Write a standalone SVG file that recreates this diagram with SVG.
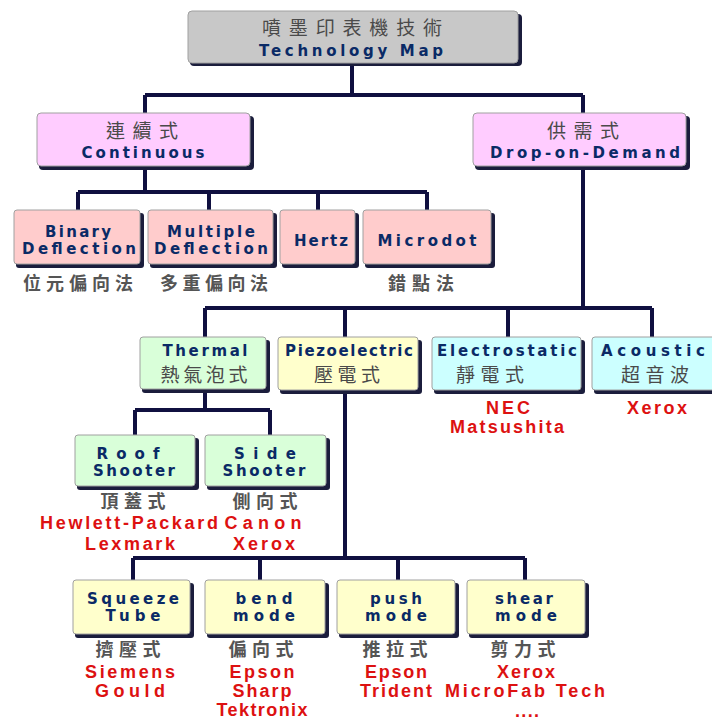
<svg xmlns="http://www.w3.org/2000/svg" width="712" height="720" viewBox="0 0 712 720">
<style>
.sh{fill:#1b1d3c}
.bx{stroke:#a0a0a0;stroke-width:1}
.en{font-family:"DejaVu Sans","Liberation Sans",sans-serif;font-weight:bold;font-size:15px;fill:#0a2a66;text-anchor:middle}
.zh{font-family:"Noto Sans CJK TC","Noto Sans CJK SC",sans-serif;font-size:19px;fill:#4a4a4a;text-anchor:middle}
.zs{font-family:"Noto Sans CJK TC","Noto Sans CJK SC",sans-serif;font-size:18px;font-weight:bold;fill:#555;text-anchor:middle}
.rd{font-family:"Liberation Sans",sans-serif;font-weight:bold;font-size:18px;fill:#dd1111;text-anchor:middle}
.cn{stroke:#101040;stroke-width:4;fill:none}
.g{fill:#c8c8c8}.p{fill:#ffccff}.s{fill:#ffcccc}.gr{fill:#d9ffd9}.y{fill:#ffffcc}.c{fill:#ccffff}
</style>
<rect width="712" height="720" fill="#ffffff"/>
<g id="connectors">
<path class="cn" d="M352 64V95M145 95H583M145 95V113M583 95V113"/>
<path class="cn" d="M145 167V192M78 192H427M78 192V210M209 192V210M318 192V210M427 192V210"/>
<path class="cn" d="M583 167V308M205 308H652M205 308V337M345 308V337M508 308V337M652 308V337"/>
<path class="cn" d="M205 390V410M135 410H270M135 410V435M270 410V435"/>
<path class="cn" d="M345 392V558M133 558H525M133 558V580M260 558V580M398 558V580M525 558V580"/>
</g>
<g id="title">
<rect class="sh" x="190" y="14" width="332" height="52" rx="4"/>
<rect class="bx g" x="188" y="11" width="330" height="52" rx="4"/>
<text class="zh" x="352" y="35" font-size="20" textLength="180">噴墨印表機技術</text>
<text class="en" x="351" y="56" font-size="16" textLength="184">Technology Map</text>
</g>
<g id="continuous">
<rect class="sh" x="39" y="116" width="215" height="54" rx="4"/>
<rect class="bx p" x="37" y="113" width="213" height="53" rx="4"/>
<text class="zh" x="142" y="138" font-size="20" textLength="72">連續式</text>
<text class="en" x="143" y="158" font-size="16" textLength="123">Continuous</text>
</g>
<g id="dod">
<rect class="sh" x="475" y="116" width="215" height="54" rx="4"/>
<rect class="bx p" x="473" y="113" width="213" height="53" rx="4"/>
<text class="zh" x="583" y="138" font-size="20" textLength="72">供需式</text>
<text class="en" x="585" y="158" font-size="16" textLength="190">Drop-on-Demand</text>
</g>
<g id="binary">
<rect class="sh" x="16" y="213" width="128" height="55" rx="3"/>
<rect class="bx s" x="14" y="210" width="126" height="54" rx="3"/>
<text class="en" x="78" y="237" textLength="66">Binary</text>
<text class="en" x="79" y="254" textLength="114">Deflection</text>
<text class="zs" x="78" y="290" textLength="110">位元偏向法</text>
</g>
<g id="multiple">
<rect class="sh" x="150" y="213" width="127" height="55" rx="3"/>
<rect class="bx s" x="148" y="210" width="125" height="54" rx="3"/>
<text class="en" x="211" y="237" textLength="88">Multiple</text>
<text class="en" x="211" y="254" textLength="114">Deflection</text>
<text class="zs" x="214" y="290" textLength="108">多重偏向法</text>
</g>
<g id="hertz">
<rect class="sh" x="282" y="213" width="77" height="55" rx="3"/>
<rect class="bx s" x="280" y="210" width="75" height="54" rx="3"/>
<text class="en" x="321" y="246" font-size="16" textLength="54">Hertz</text>
</g>
<g id="microdot">
<rect class="sh" x="365" y="213" width="130" height="55" rx="3"/>
<rect class="bx s" x="363" y="210" width="128" height="54" rx="3"/>
<text class="en" x="427" y="246" font-size="16" textLength="99">Microdot</text>
<text class="zs" x="421" y="290" textLength="66">錯點法</text>
</g>
<g id="thermal">
<rect class="sh" x="142" y="340" width="128" height="53" rx="3"/>
<rect class="bx gr" x="140" y="337" width="126" height="52" rx="3"/>
<text class="en" x="205" y="356" textLength="85">Thermal</text>
<text class="zh" x="204" y="382" font-size="18" textLength="87">熱氣泡式</text>
</g>
<g id="piezo">
<rect class="sh" x="280" y="340" width="142" height="54" rx="3"/>
<rect class="bx y" x="278" y="337" width="140" height="53" rx="3"/>
<text class="en" x="349" y="356" textLength="128">Piezoelectric</text>
<text class="zh" x="347" y="382" font-size="18" textLength="66">壓電式</text>
</g>
<g id="electrostatic">
<rect class="sh" x="434" y="340" width="151" height="54" rx="3"/>
<rect class="bx c" x="432" y="337" width="149" height="53" rx="3"/>
<text class="en" x="507" y="356" textLength="140">Electrostatic</text>
<text class="zh" x="490" y="382" font-size="18" textLength="68">靜電式</text>
<text class="rd" x="508" y="414" textLength="44">NEC</text>
<text class="rd" x="507" y="433" textLength="114">Matsushita</text>
</g>
<g id="acoustic">
<rect class="sh" x="594" y="340" width="122" height="54" rx="3"/>
<rect class="bx c" x="592" y="337" width="124" height="53" rx="3"/>
<text class="en" x="653" y="356" textLength="104">Acoustic</text>
<text class="zh" x="655" y="382" font-size="18" textLength="68">超音波</text>
<text class="rd" x="657" y="414" textLength="60">Xerox</text>
</g>
<g id="roof">
<rect class="sh" x="77" y="438" width="122" height="52" rx="3"/>
<rect class="bx gr" x="75" y="435" width="120" height="51" rx="3"/>
<text class="en" x="128" y="459" textLength="63">Roof</text>
<text class="en" x="134" y="476" textLength="82">Shooter</text>
<text class="zs" x="133" y="508" font-size="17" textLength="65">頂蓋式</text>
<text class="rd" x="129" y="529" textLength="178">Hewlett-Packard</text>
<text class="rd" x="130" y="550" textLength="90">Lexmark</text>
</g>
<g id="side">
<rect class="sh" x="207" y="438" width="123" height="52" rx="3"/>
<rect class="bx gr" x="205" y="435" width="121" height="51" rx="3"/>
<text class="en" x="265" y="459" textLength="62">Side</text>
<text class="en" x="264" y="476" textLength="83">Shooter</text>
<text class="zs" x="265" y="508" font-size="17" textLength="65">側向式</text>
<text class="rd" x="263" y="529" textLength="77">Canon</text>
<text class="rd" x="264" y="550" textLength="62">Xerox</text>
</g>
<g id="squeeze">
<rect class="sh" x="75" y="583" width="119" height="55" rx="3"/>
<rect class="bx y" x="73" y="580" width="117" height="54" rx="3"/>
<text class="en" x="133" y="604" textLength="92">Squeeze</text>
<text class="en" x="133" y="621" textLength="55">Tube</text>
<text class="zs" x="128" y="656" font-size="17" textLength="65">擠壓式</text>
<text class="rd" x="130" y="678" textLength="90">Siemens</text>
<text class="rd" x="130" y="697" textLength="70">Gould</text>
</g>
<g id="bend">
<rect class="sh" x="207" y="583" width="122" height="55" rx="3"/>
<rect class="bx y" x="205" y="580" width="120" height="54" rx="3"/>
<text class="en" x="264" y="604" textLength="57">bend</text>
<text class="en" x="264" y="621" textLength="62">mode</text>
<text class="zs" x="261" y="656" font-size="17" textLength="65">偏向式</text>
<text class="rd" x="262" y="678" textLength="65">Epson</text>
<text class="rd" x="262" y="697" textLength="59">Sharp</text>
<text class="rd" x="262" y="716" textLength="91">Tektronix</text>
</g>
<g id="push">
<rect class="sh" x="339" y="583" width="120" height="55" rx="3"/>
<rect class="bx y" x="337" y="580" width="118" height="54" rx="3"/>
<text class="en" x="396" y="604" textLength="52">push</text>
<text class="en" x="396" y="621" textLength="62">mode</text>
<text class="zs" x="395" y="656" font-size="17" textLength="65">推拉式</text>
<text class="rd" x="396" y="678" textLength="62">Epson</text>
<text class="rd" x="396" y="697" textLength="72">Trident</text>
</g>
<g id="shear">
<rect class="sh" x="469" y="583" width="120" height="55" rx="3"/>
<rect class="bx y" x="467" y="580" width="118" height="54" rx="3"/>
<text class="en" x="524" y="604" textLength="58">shear</text>
<text class="en" x="526" y="621" textLength="62">mode</text>
<text class="zs" x="523" y="656" font-size="17" textLength="65">剪力式</text>
<text class="rd" x="526" y="678" textLength="58">Xerox</text>
<text class="rd" x="525" y="697" textLength="160">MicroFab Tech</text>
<text class="rd" x="527" y="717" font-size="12" textLength="24">....</text>
</g>
</svg>
